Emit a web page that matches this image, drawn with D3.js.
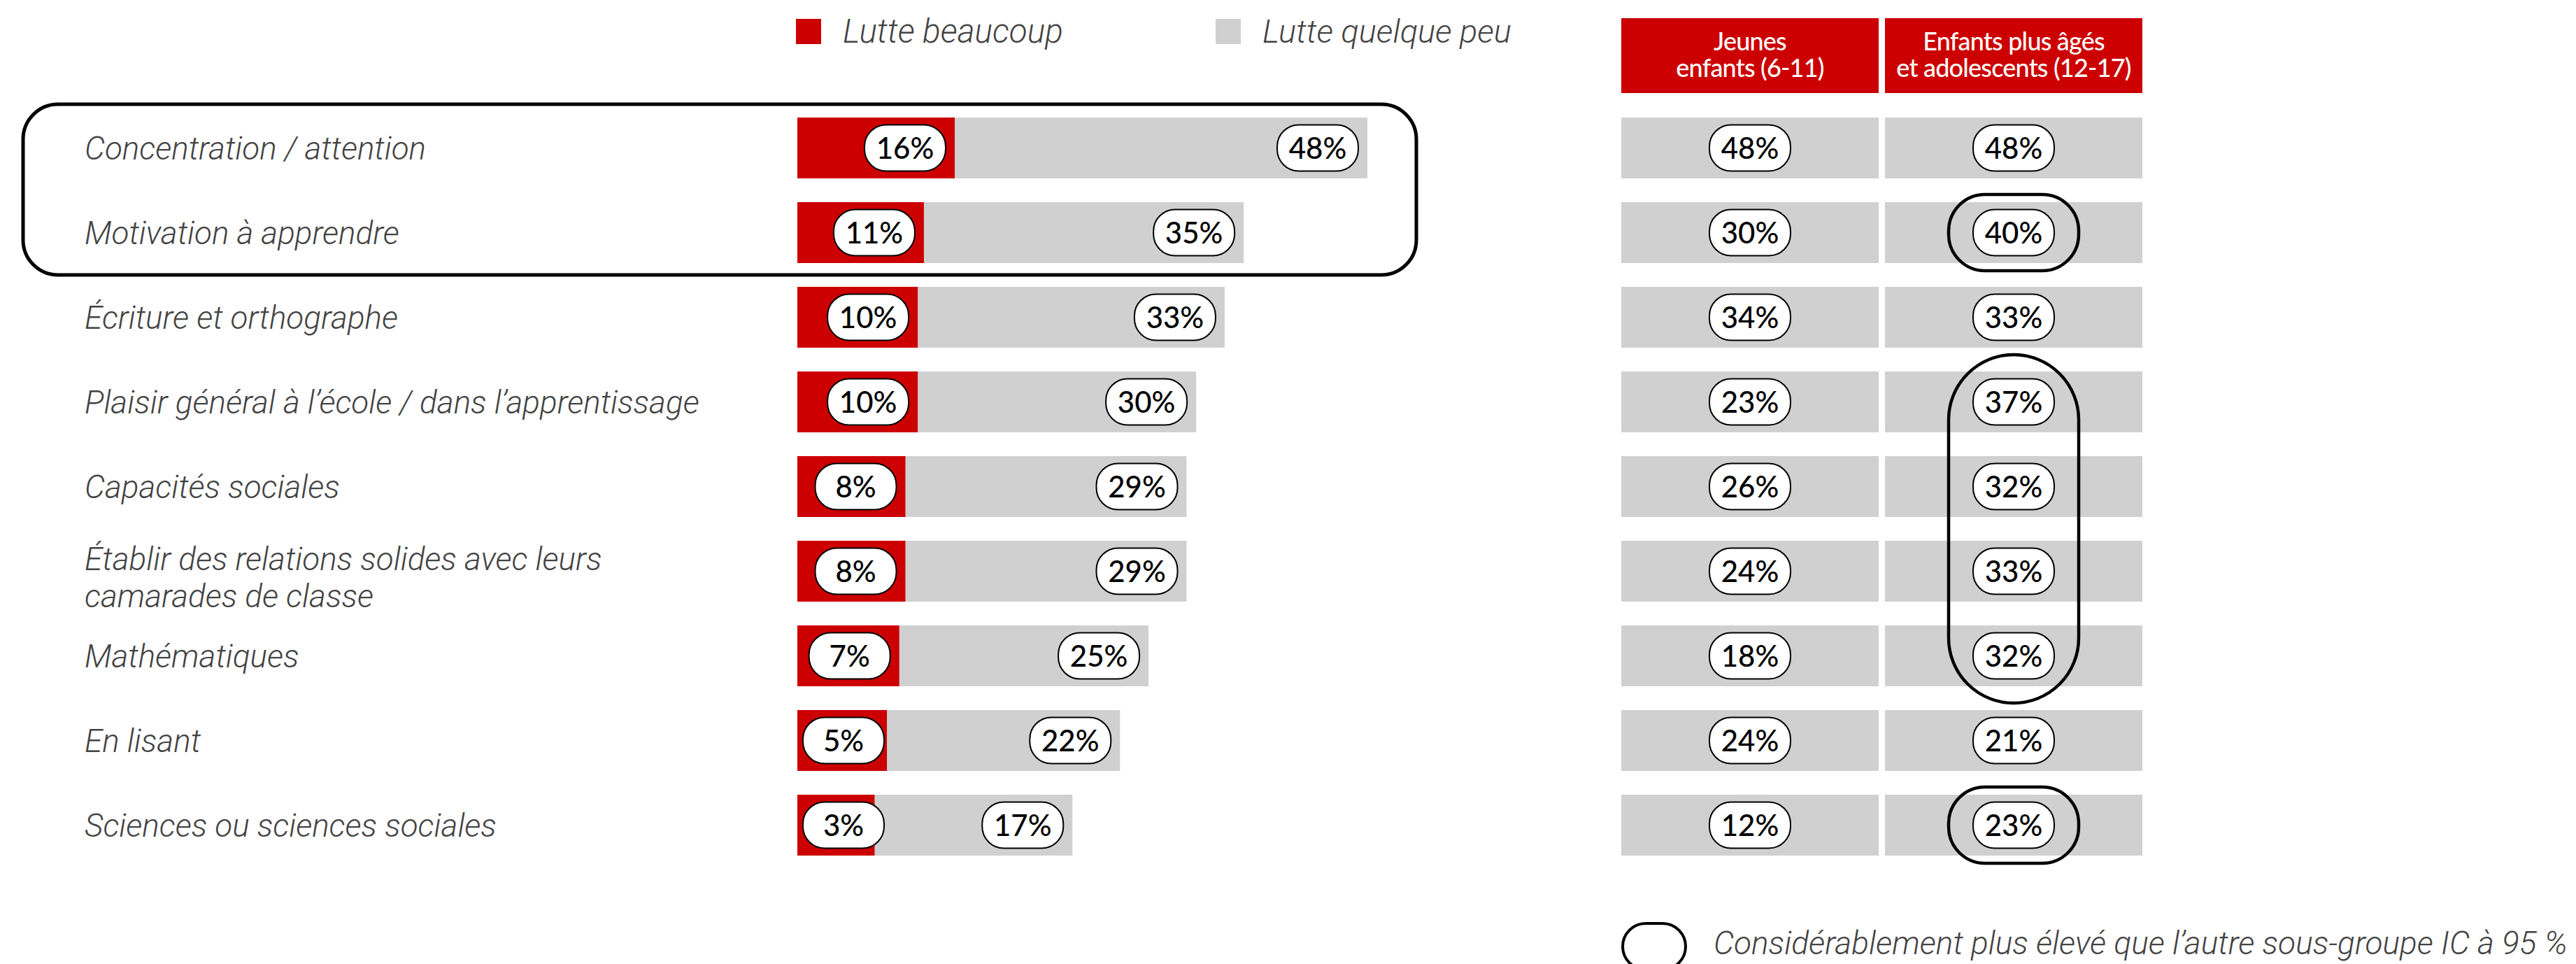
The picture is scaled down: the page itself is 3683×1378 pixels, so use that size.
<!DOCTYPE html>
<html><head><meta charset="utf-8">
<script src="https://cdn.jsdelivr.net/npm/d3@7"></script>
<style>html,body{margin:0;padding:0;background:#fff;}</style>
</head><body>
<svg id="c" width="3683" height="1378"></svg>
<script>
const categories = [
  ["Concentration / attention"],
  ["Motivation à apprendre"],
  ["Écriture et orthographe"],
  ["Plaisir général à l’école / dans l’apprentissage"],
  ["Capacités sociales"],
  ["Établir des relations solides avec leurs", "camarades de classe"],
  ["Mathématiques"],
  ["En lisant"],
  ["Sciences ou sciences sociales"]
];
const lutteBeaucoup = [16, 11, 10, 10, 8, 8, 7, 5, 3];
const lutteQuelquePeu = [48, 35, 33, 30, 29, 29, 25, 22, 17];
const jeunesEnfants = [48, 30, 34, 23, 26, 24, 18, 24, 12];
const enfantsPlusAges = [48, 40, 33, 37, 32, 33, 32, 21, 23];
const seriesNames = ["Lutte beaucoup", "Lutte quelque peu"];
const columnHeaders = [["Jeunes", "enfants (6-11)"], ["Enfants plus âgés", "et adolescents (12-17)"]];
const legendNote = "Considérablement plus élevé que l’autre sous-groupe IC à 95 %";
// significance highlights: column index, first row, last row
const highlights = [
  {col: 1, from: 1, to: 1},
  {col: 1, from: 3, to: 6},
  {col: 1, from: 8, to: 8}
];
const boxedRows = [0, 1];

const RED = "#CC0000", GREY = "#D0D0D0", TXT = "#434343";
const FONT = "Lato, 'Open Sans', sans-serif";
const IFONT = "Roboto, Lato, sans-serif";
const svg = d3.select("#c");
const idx = d3.range(categories.length);

const y = d3.scaleBand().domain(idx).range([151, 151 + 9 * 121]).paddingInner(0.281).paddingOuter(0.1405);
const x0 = 1140;
const xRed = d3.scaleLinear().domain([0, 16]).range([x0 + 84, x0 + 225]);
const xGrey = d3.scaleLinear().domain([0, 48]).range([x0 + 162, x0 + 815]);
const col = d3.scaleBand().domain([0, 1]).range([2318, 3063]).paddingInner(9 / 377);
const tableVals = [jeunesEnfants, enfantsPlusAges];

// fit text to a target width by font size
function fitSize(sel, target) {
  const w = sel.node().getComputedTextLength();
  const fs = parseFloat(sel.attr("font-size")) * target / w;
  sel.attr("font-size", fs);
  return fs;
}

// big box around first rows
const bTop = y(boxedRows[0]) - 19, bBot = y(boxedRows[boxedRows.length - 1]) + y.bandwidth() + 17;
svg.append("rect").attr("x", 33).attr("y", bTop).attr("width", 1992).attr("height", bBot - bTop)
  .attr("rx", 50).attr("fill", "none").attr("stroke", "#000").attr("stroke-width", 5);

// category labels
const lab = svg.append("g").attr("font-family", IFONT).attr("font-style", "italic")
  .attr("font-weight", 300).attr("fill", TXT);
const labTexts = lab.selectAll("text").data(categories).join("text")
  .attr("x", 121).attr("y", (d, i) => y(i) + y.bandwidth() / 2 + 16 - 17.5 * (d.length - 1)).attr("font-size", 44);
labTexts.selectAll("tspan").data(d => d).join("tspan")
  .attr("x", 121).attr("dy", (d, j) => j === 0 ? 0 : 53).text(d => d);
const lfs = fitSize(labTexts.filter((d, i) => i === 3), 879);
labTexts.attr("font-size", lfs);

// bars
const bars = svg.append("g");
bars.selectAll("rect.g").data(lutteQuelquePeu).join("rect").attr("class", "g")
  .attr("x", x0).attr("y", (d, i) => y(i)).attr("height", y.bandwidth())
  .attr("width", d => xGrey(d) - x0).attr("fill", GREY);
bars.selectAll("rect.r").data(lutteBeaucoup).join("rect").attr("class", "r")
  .attr("x", x0).attr("y", (d, i) => y(i)).attr("height", y.bandwidth())
  .attr("width", d => xRed(d) - x0).attr("fill", RED);

const PW = 116, PH = 66;
function pill(g, cx, cy, v) {
  g.append("rect").attr("x", cx - PW / 2).attr("y", cy - PH / 2).attr("width", PW).attr("height", PH)
    .attr("rx", 31).attr("fill", "#fff").attr("stroke", "#000").attr("stroke-width", 2);
  g.append("text").attr("x", cx).attr("y", cy + 15).attr("text-anchor", "middle")
    .attr("font-family", FONT).attr("font-weight", 500).attr("font-size", 42).attr("fill", "#000")
    .text(v + "%");
}
const pills = svg.append("g");
lutteBeaucoup.forEach((v, i) => pill(pills, Math.max(xRed(v) - 71, x0 + 66), y(i) + y.bandwidth() / 2, v));
lutteQuelquePeu.forEach((v, i) => pill(pills, xGrey(v) - 71, y(i) + y.bandwidth() / 2, v));

// legend top
const leg = svg.append("g").attr("font-family", IFONT).attr("font-style", "italic")
  .attr("font-weight", 300).attr("fill", TXT);
const legX = [1138, 1738];
const legW = [315, 356];
seriesNames.forEach((s, k) => {
  leg.append("rect").attr("x", legX[k]).attr("y", 27).attr("width", 36).attr("height", 36).attr("fill", k === 0 ? RED : GREY);
  const t = leg.append("text").attr("x", legX[k] + 67).attr("y", 61).attr("font-size", 44).text(s);
  fitSize(t, legW[k]);
});

// table headers
const tbl = svg.append("g");
columnHeaders.forEach((h, k) => {
  tbl.append("rect").attr("x", col(k)).attr("y", 26).attr("width", col.bandwidth()).attr("height", 107).attr("fill", RED);
  const t = tbl.append("text").attr("text-anchor", "middle").attr("font-family", FONT)
    .attr("font-weight", 500).attr("font-size", 36).attr("letter-spacing", -0.8).attr("fill", "#fff");
  h.forEach((line, j) => t.append("tspan").attr("x", col(k) + col.bandwidth() / 2).attr("y", 72 + j * 38).text(line));
});
// table cells
tableVals.forEach((vals, k) => {
  vals.forEach((v, i) => {
    tbl.append("rect").attr("x", col(k)).attr("y", y(i)).attr("width", col.bandwidth()).attr("height", y.bandwidth()).attr("fill", GREY);
  });
});
tableVals.forEach((vals, k) => {
  vals.forEach((v, i) => pill(tbl, col(k) + col.bandwidth() / 2, y(i) + y.bandwidth() / 2, v));
});
// highlights
highlights.forEach(h => {
  const single = h.from === h.to;
  const pad = single ? 11 : 24;
  const cx = col(h.col) + col.bandwidth() / 2;
  const top = y(h.from) - pad, bot = y(h.to) + y.bandwidth() + pad;
  tbl.append("rect").attr("x", cx - 93).attr("y", top).attr("width", 186).attr("height", bot - top)
    .attr("rx", single ? 52 : 93).attr("fill", "none").attr("stroke", "#000").attr("stroke-width", 4.5);
});

// bottom legend
svg.append("rect").attr("x", 2320).attr("y", 1320).attr("width", 90).attr("height", 66).attr("rx", 33)
  .attr("fill", "none").attr("stroke", "#000").attr("stroke-width", 4);
const note = svg.append("text").attr("x", 2450).attr("y", 1364).attr("font-family", IFONT)
  .attr("font-style", "italic").attr("font-weight", 300).attr("fill", TXT).attr("font-size", 42).text(legendNote);
fitSize(note, 1221);
</script>
</body></html>
